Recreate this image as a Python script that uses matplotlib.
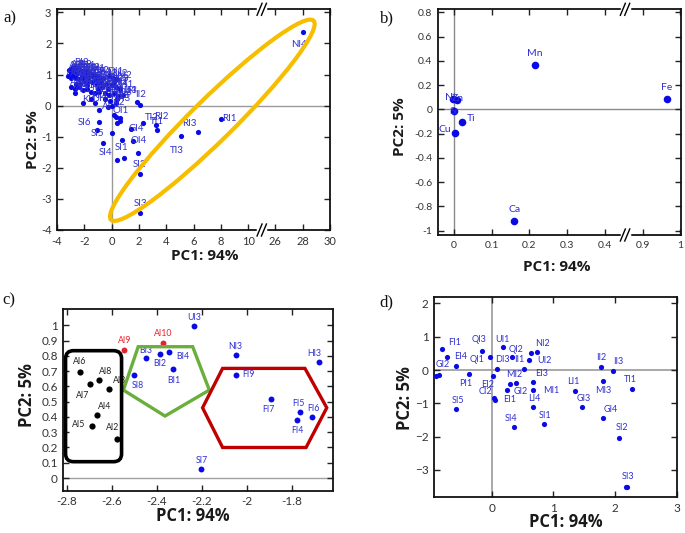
import matplotlib
matplotlib.use("Agg")
import matplotlib.pyplot as plt
from matplotlib.patches import Ellipse, FancyBboxPatch, Polygon
from matplotlib.transforms import IdentityTransform

W, H = 685, 533
BLUE = "#0a0ae6"
LBLUE = "#3030d0"
TICKC = "#333333"

# ---------------- Panel a data (PC1 real values; break 10..26) ----------------
a_names = ["NI4", "RI1", "RI3", "TI3", "SI2", "SI3", "RI2", "TI1", "TI2", "II3", "II2",
           "GI4", "OI4", "", "SI1", "SI4", "", "", "SI5", "SI6", "", "", "", "", ""]
a_x = [28.0, 8.0, 6.31, 5.11, 2.07, 2.09, 3.26, 3.31, 2.33, 1.85, 2.09,
       1.43, 1.55, 1.92, 0.92, 0.38, 0.75, 0.06, -0.60, -0.94, -1.08, 0.33, 0.62, 0.40, 0.60]
a_y = [2.37, -0.42, -0.84, -0.98, -2.19, -3.46, -0.63, -0.77, -0.56, 0.12, 0.01,
       -0.74, -1.13, -1.53, -1.67, -1.74, -1.10, -0.88, -1.20, -0.54, -0.77, -0.35, -0.50, -0.56, -0.40]
a_off = [(-3, -9), (6, 0), (-6, 6), (-3, -10), (0, 7), (0, 7), (4, 6), (0, 6), (6, 4), (-4, 8), (0, 8),
         (4, 0), (4, 0), (0, 0), (-2, 7), (-8, 5), (0, 0), (0, 0), (-4, 7), (-10, 0), (0, 0), (0, 0), (0, 0), (0, 0), (0, 0)]

blob_names = ["AI6", "AI8", "BI3", "BI2", "BI4", "CI1", "CI3", "DI1", "DI2", "EI1", "UI3", "QI1", "UI2", "NI2",
              "AI7", "AI1", "AI4", "BI1", "SI8", "CI2", "DI3", "EI2", "FI1", "QI2", "QI3", "UI1", "MI2", "II1", "PI1",
              "AI5", "AI2", "AI9", "AI10", "FI2", "FI3", "GI1", "GI2", "HI1", "HI2", "MI1", "EI3", "LI4",
              "AI3", "KI1", "KI2", "JI1", "AI", "E", "JI2", "OI1", "II3",
              "HI3", "NI3", "FI4", "FI5", "FI6", "FI7", "FI9", "SI7", "CI4", "DI4", "EI4", "KI3", "LI2", "LI3",
              "MI4", "OI2", "OI3", "PI2", "PI3"]
blob_x = [-3.1, -2.9, -2.7, -2.5, -2.3, -2.1, -1.9, -1.6, -1.3, -1.0, -0.6, -0.2, 0.1, 0.4,
          -3.2, -3.0, -2.8, -2.6, -2.4, -2.2, -2.0, -1.7, -1.4, -1.1, -0.8, -0.4, 0.0, 0.3, 0.6,
          -3.0, -2.7, -2.4, -2.1, -1.8, -1.5, -1.2, -0.9, -0.5, -0.2, 0.2, 0.5, 0.8,
          -2.67, -2.1, -1.5, -1.2, -0.9, -0.3, 0.05, 0.18, 0.4,
          -3.0, -2.8, -2.5, -2.2, -1.9, -1.7, -1.5, -1.2, -0.9, -0.7, -0.3, 0.2, -2.6, -2.3,
          -1.8, -1.0, -0.5, -0.1, 0.35]
blob_y = [1.15, 1.2, 1.25, 1.2, 1.15, 1.1, 1.1, 1.05, 1.0, 0.95, 0.9, 0.95, 0.9, 0.85,
          0.95, 0.9, 0.95, 0.9, 0.85, 0.9, 0.8, 0.8, 0.75, 0.7, 0.75, 0.7, 0.65, 0.6, 0.55,
          0.6, 0.55, 0.6, 0.5, 0.55, 0.45, 0.4, 0.45, 0.4, 0.35, 0.4, 0.3, 0.35,
          0.4, 0.08, 0.2, 0.1, -0.15, -0.05, -0.02, -0.29, 0.2,
          1.05, 1.1, 1.05, 1.0, 0.95, 0.9, 0.95, 0.85, 0.85, 0.6, 0.55, 0.75, 0.7, 0.7,
          0.65, 0.55, 0.2, 0.15, 0.1]

a_xticks = [-4, -2, 0, 2, 4, 6, 8, 10, 26, 28, 30]
a_yticks = [3, 2, 1, 0, -1, -2, -3, -4]

# ---------------- Panel b data (PC1 real values; break 0.4..0.9) ----------------
b_names = ["Mn", "Fe", "Ca", "Ti", "Cu", "Ni", "Zn", "Sr"]
b_x = [0.214, 0.964, 0.160, 0.021, 0.002, -0.002, 0.007, 0.000]
b_y = [0.365, 0.085, -0.920, -0.101, -0.198, 0.088, 0.080, -0.014]
b_off = [(0, 8), (0, 8), (0, 8), (7, 2), (-7, 3), (-2, 1), (1, 1), (0, 0)]
b_xticks = [0, 0.1, 0.2, 0.3, 0.4, 0.9, 1]
b_xticklabels = ["0", "0.1", "0.2", "0.3", "0.4", "0.9", "1"]
b_yticks = [0.8, 0.6, 0.4, 0.2, 0, -0.2, -0.4, -0.6, -0.8, -1]
b_yticklabels = ["0.8", "0.6", "0.4", "0.2", "0", "-0.2", "-0.4", "-0.6", "-0.8", "-1"]

# ---------------- Panel c data ----------------
c_black_names = ["AI6", "AI7", "AI8", "AI3", "AI4", "AI5", "AI2"]
c_black_x = [-2.741, -2.696, -2.656, -2.613, -2.664, -2.687, -2.578]
c_black_y = [0.697, 0.616, 0.642, 0.583, 0.413, 0.343, 0.255]
c_black_off = [(0, 7), (-5, -8), (5, 6), (8, 6), (5, 6), (-10, 1), (-3, 8)]
c_red_names = ["AI9", "AI10"]
c_red_x = [-2.544, -2.373]
c_red_y = [0.836, 0.882]
c_red_off = [(0, 7), (0, 7)]
c_blue_names = ["BI3", "BI2", "BI4", "BI1", "SI8", "UI3", "NI3", "FI9", "FI7", "FI5", "FI4", "FI6", "HI3", "SI7"]
c_blue_x = [-2.449, -2.385, -2.347, -2.326, -2.502, -2.234, -2.049, -2.049, -1.890, -1.763, -1.775, -1.708, -1.680, -2.201]
c_blue_y = [0.788, 0.814, 0.825, 0.712, 0.677, 0.998, 0.806, 0.675, 0.520, 0.432, 0.378, 0.402, 0.758, 0.057]
c_blue_off = [(0, 5), (0, -7), (10, -3), (0, -8), (3, -8), (0, 6), (0, 6), (9, 0), (-2, -8), (-1, 6), (0, -7), (1, 6), (-3, 6), (0, 6)]
c_xticks = [-2.8, -2.6, -2.4, -2.2, -2.0, -1.8]
c_xticklabels = ["-2.8", "-2.6", "-2.4", "-2.2", "-2", "-1.8"]
c_yticks = [0, 0.1, 0.2, 0.3, 0.4, 0.5, 0.6, 0.7, 0.8, 0.9, 1.0]
c_yticklabels = ["0", "0.1", "0.2", "0.3", "0.4", "0.5", "0.6", "0.7", "0.8", "0.9", "1"]

# ---------------- Panel d data ----------------
d_names = ["FI1", "EI4", "GI2", "", "", "PI1", "SI5", "QI3", "QI1", "UI1", "QI2", "DI3", "EI2", "CI2", "",
           "EI1", "MI2", "GI2", "II1", "", "NI2", "UI2", "EI3", "MI1", "LI4", "SI4", "SI1", "LI1", "GI3",
           "II2", "MI3", "II3", "TI1", "GI4", "SI2", "SI3", ""]
d_x = [-0.816, -0.735, -0.578, -0.914, -0.865, -0.373, -0.578, -0.162, -0.032, 0.173, 0.324, 0.076, 0.016, 0.030, 0.045,
       0.243, 0.297, 0.395, 0.519, 0.632, 0.730, 0.605, 0.665, 0.670, 0.670, 0.357, 0.843, 1.346, 1.470,
       1.768, 1.800, 1.968, 2.270, 1.800, 2.065, 2.170, 2.195]
d_y = [0.62, 0.40, 0.11, -0.18, -0.14, -0.12, -1.18, 0.57, 0.40, 0.68, 0.38, 0.02, -0.18, -0.85, -0.90,
       -0.60, -0.42, -0.38, 0.02, 0.52, 0.55, 0.30, -0.35, -0.60, -1.10, -1.70, -1.62, -0.63, -1.12,
       0.08, -0.32, -0.03, -0.57, -1.45, -2.03, -3.50, -3.50]
d_off = [(9, 5), (10, 0), (-10, 1), (0, 0), (0, 0), (-2, -7), (1, 6), (-2, 8), (-9, -2), (0, 6), (3, 6), (4, 7), (-4, -6), (-6, 5), (0, 0),
         (2, -7), (3, 7), (3, -6), (-3, 7), (0, 0), (4, 6), (11, 0), (6, 6), (13, 0), (1, 6), (-2, 6), (1, 6), (-1, 7), (1, 6),
         (0, 7), (0, -7), (4, 7), (-1, 7), (6, 6), (2, 7), (2, 7), (0, 0)]
d_xticks = [0, 1, 2, 3]
d_yticks = [2, 1, 0, -1, -2, -3]


def px_axes(l, t, r, b):
    return [l / W, 1 - b / H, (r - l) / W, (b - t) / H]


def style(ax, fs):
    for s in ax.spines.values():
        s.set_linewidth(1.3)
        s.set_color("#111111")
    ax.tick_params(direction="in", length=4, width=1, top=True, right=True,
                   labelsize=fs, labelcolor=TICKC, color="#222222", pad=4)
    for lab in ax.get_xticklabels() + ax.get_yticklabels():
        lab.set_fontfamily("Lato")


def labels(ax, xs, ys, names, offs, color, fs):
    for x, y, n, o in zip(xs, ys, names, offs):
        if n:
            ax.annotate(n, (x, y), xytext=o, textcoords="offset points", ha="center", va="center",
                        fontsize=fs, color=color, family="Lato", zorder=4)


def draw_break(ax, xf):
    bb = ax.get_position()
    aw, ah = bb.width * W, bb.height * H
    for yf in (0, 1):
        ax.plot([xf - 3.5 / aw, xf + 3.5 / aw], [yf, yf], color="white", lw=2.5,
                transform=ax.transAxes, clip_on=False, zorder=10)
        for dx in (-2.2, 2.2):
            ax.plot([xf + (dx - 2.5) / aw, xf + (dx + 2.5) / aw], [yf - 6 / ah, yf + 6 / ah],
                    color="black", lw=1, transform=ax.transAxes, clip_on=False, zorder=11)


def ftext(x, y, s, **kw):
    fig.text(x / W, 1 - y / H, s, ha="center", va="center", **kw)


fig = plt.figure(figsize=(W / 100, H / 100), dpi=100)

# ================= Panel a =================
ax = fig.add_axes(px_axes(57, 9.3, 330, 230))
amap = lambda v: v if v <= 10 else v - 14
ax.axhline(0, color="#9a9a9a", lw=1, zorder=1)
ax.axvline(0, color="#9a9a9a", lw=1, zorder=1)
ax.scatter([amap(v) for v in blob_x], blob_y, s=14, color=BLUE, zorder=3, linewidths=0)
for x, y, n in zip(blob_x, blob_y, blob_names):
    ax.annotate(n, (amap(x), y), xytext=(5, 3), textcoords="offset points", ha="center", va="center",
                fontsize=7, color=LBLUE, family="Lato", zorder=4)
ax.scatter([amap(v) for v in a_x], a_y, s=14, color=BLUE, zorder=3, linewidths=0)
labels(ax, [amap(v) for v in a_x], a_y, a_names, a_off, LBLUE, 7)
ax.set_xlim(-4, 16)
ax.set_ylim(-4, 3.1)
ax.set_xticks([amap(v) for v in a_xticks])
ax.set_xticklabels([str(v) for v in a_xticks])
ax.set_yticks(a_yticks)
ax.set_yticklabels([str(v) for v in a_yticks])
style(ax, 8)
draw_break(ax, 0.75)
# highlight ellipse
cx, cy = ax.transData.transform((amap(7.38), -0.47))
fig.add_artist(Ellipse((cx, cy), 2 * 142, 2 * 21, angle=44.5, fill=False, edgecolor="#f7be00",
                       lw=3, transform=IdentityTransform(), zorder=5))

# ================= Panel b =================
ax = fig.add_axes(px_axes(437.7, 9.3, 681, 235))
bmap = lambda v: v if v <= 0.45 else v - 0.4
ax.axhline(0, color="#8a8a8a", lw=1, zorder=1)
ax.axvline(0, color="#8a8a8a", lw=1, zorder=1)
ax.scatter([bmap(v) for v in b_x], b_y, s=30, color=BLUE, zorder=3, linewidths=0)
labels(ax, [bmap(v) for v in b_x], b_y, b_names, b_off, LBLUE, 7.5)
ax.set_xlim(-0.043, 0.602)
ax.set_ylim(-1.036, 0.825)
ax.set_xticks([bmap(v) for v in b_xticks])
ax.set_xticklabels(b_xticklabels)
ax.set_yticks(b_yticks)
ax.set_yticklabels(b_yticklabels)
style(ax, 7.5)
draw_break(ax, 0.77)

# ================= Panel c =================
ax = fig.add_axes(px_axes(63.3, 309.3, 333.3, 490.7))
ax.axhline(0, color="#a0a0a0", lw=1, zorder=1)
ax.scatter(c_black_x, c_black_y, s=20, color="black", zorder=3, linewidths=0)
ax.scatter(c_red_x, c_red_y, s=18, color="#e8212b", zorder=3, linewidths=0)
ax.scatter(c_blue_x, c_blue_y, s=18, color=BLUE, zorder=3, linewidths=0)
labels(ax, c_black_x, c_black_y, c_black_names, c_black_off, "#222222", 6.3)
labels(ax, c_red_x, c_red_y, c_red_names, c_red_off, "#e8212b", 6.3)
labels(ax, c_blue_x, c_blue_y, c_blue_names, c_blue_off, LBLUE, 6.3)
ax.set_xlim(-2.815, -1.615)
ax.set_ylim(-0.083, 1.105)
ax.set_xticks(c_xticks)
ax.set_xticklabels(c_xticklabels)
ax.set_yticks(c_yticks)
ax.set_yticklabels(c_yticklabels)
style(ax, 8.5)
# group outlines
ax.add_patch(Polygon([(-2.548, 0.576), (-2.482, 0.86), (-2.24, 0.86), (-2.166, 0.576), (-2.363, 0.406)],
                     closed=True, fill=False, edgecolor="#6aae3c", lw=2.4, zorder=5))
ax.add_patch(Polygon([(-2.196, 0.46), (-2.107, 0.718), (-1.741, 0.718), (-1.644, 0.46), (-1.736, 0.2), (-2.107, 0.2)],
                     closed=True, fill=False, edgecolor="#c00000", lw=2.4, zorder=5))
(x0, y0) = ax.transData.transform((-2.805, 0.107))
(x1, y1) = ax.transData.transform((-2.556, 0.834))
fig.add_artist(FancyBboxPatch((x0, y0), x1 - x0, y1 - y0, boxstyle="round,pad=0,rounding_size=8",
                              fill=False, edgecolor="black", lw=2.6, transform=IdentityTransform(), zorder=5))

# ================= Panel d =================
ax = fig.add_axes(px_axes(434.3, 296.7, 676.7, 497.3))
ax.axhline(0, color="#9a9a9a", lw=1.2, zorder=1)
ax.axvline(0, color="#9a9a9a", lw=1.2, zorder=1)
ax.scatter(d_x, d_y, s=14, color=BLUE, zorder=3, linewidths=0)
labels(ax, d_x, d_y, d_names, d_off, LBLUE, 6.5)
ax.set_xlim(-0.935, 3.0)
ax.set_ylim(-3.82, 2.2)
ax.set_xticks(d_xticks)
ax.set_yticks(d_yticks)
style(ax, 8.5)

# ================= Figure texts =================
bold = dict(family="Open Sans", fontweight="bold", color="#1a1a1a")
ftext(205, 256, "PC1: 94%", fontsize=11, **bold)
ftext(33, 140, "PC2: 5%", fontsize=11, rotation=90, **bold)
ftext(557, 267, "PC1: 94%", fontsize=11, **bold)
ftext(400, 127, "PC2: 5%", fontsize=11, rotation=90, **bold)
ftext(193, 516, "PC1: 94%", fontsize=12, **bold)
ftext(27, 395, "PC2: 5%", fontsize=12, rotation=90, **bold)
ftext(566, 522, "PC1: 94%", fontsize=12, **bold)
ftext(405, 398, "PC2: 5%", fontsize=12, rotation=90, **bold)
serif = dict(family="Liberation Serif", fontsize=12, color="#111111")
ftext(10, 18, "a)", **serif)
ftext(387, 18, "b)", **serif)
ftext(9, 300, "c)", **serif)
ftext(386, 302, "d)", **serif)

fig.savefig("out.png", dpi=100)
